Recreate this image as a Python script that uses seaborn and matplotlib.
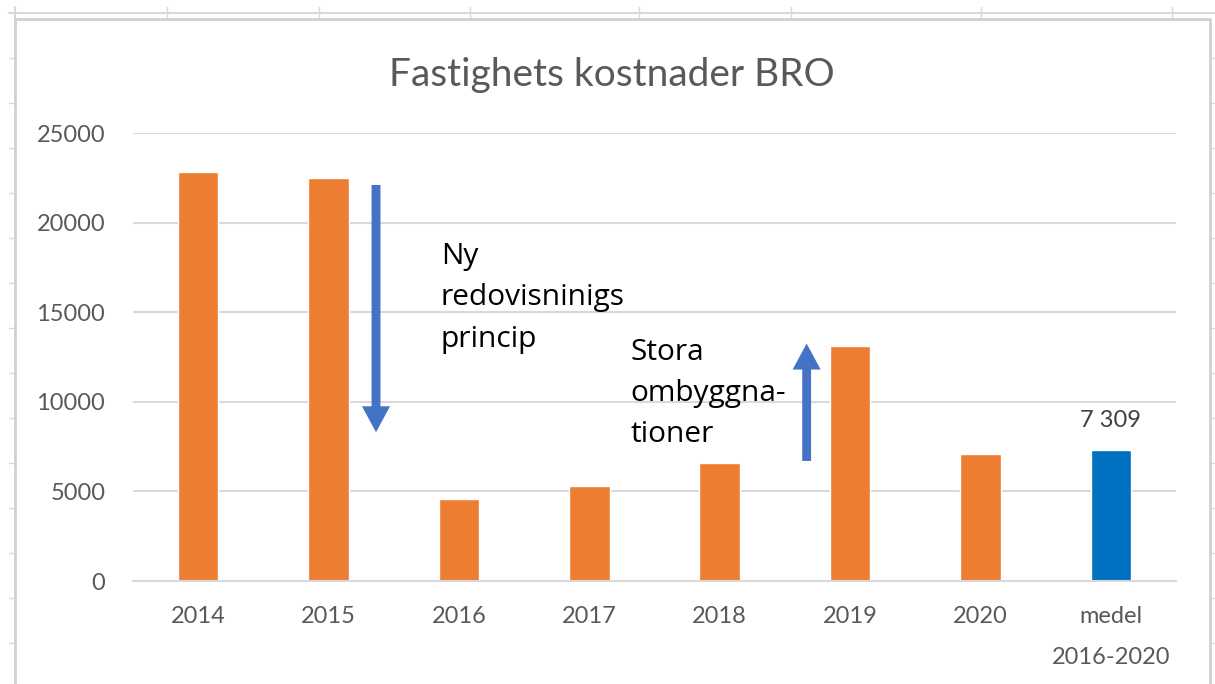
import matplotlib
matplotlib.use("Agg")
import matplotlib.pyplot as plt
import seaborn as sns
import pandas as pd
from matplotlib.patches import FancyArrow
from matplotlib.lines import Line2D

categories = ["2014", "2015", "2016", "2017", "2018", "2019", "2020", "medel\n2016-2020"]
values = [22800, 22500, 4600, 5300, 6600, 13100, 7100, 7309]
bar_colors = ["#ED7D31"] * 7 + ["#0070C0"]
yticks = [0, 5000, 10000, 15000, 20000, 25000]
title = "Fastighets kostnader BRO"
note_down = "Ny\nredovisninigs\nprincip"
note_up = "Stora\nombyggna-\ntioner"
mean_label = "7 309"

sns.set_theme(style="white")
plt.rcParams["font.family"] = ["Lato", "DejaVu Sans"]

df = pd.DataFrame({"cat": categories, "val": values})

W, H = 1215, 684
fig = plt.figure(figsize=(W / 100, H / 100), dpi=100)
fig.patch.set_facecolor("white")


def fx(px):
    return px / W


def fy(py):
    return 1 - py / H


grid_c = "#d9d9d9"
# spreadsheet background lines
fig.add_artist(Line2D([fx(9), 1], [fy(13), fy(13)], color=grid_c, lw=1.5, transform=fig.transFigure))
for x in [167, 319, 470, 639, 791, 981, 1172]:
    fig.add_artist(Line2D([fx(x), fx(x)], [fy(7), fy(18)], color=grid_c, lw=1, transform=fig.transFigure))
for y in range(58, 684, 45):
    fig.add_artist(Line2D([fx(9), fx(14)], [fy(y), fy(y)], color=grid_c, lw=1, transform=fig.transFigure))
    fig.add_artist(Line2D([fx(1210), 1], [fy(y), fy(y)], color=grid_c, lw=1, transform=fig.transFigure))
fig.add_artist(Line2D([fx(15), fx(15)], [fy(7), fy(19)], color=grid_c, lw=1.5, transform=fig.transFigure))
# chart area border
fig.add_artist(Line2D([fx(14.5), fx(14.5), fx(1210), fx(1210)], [0, fy(19), fy(19), 0],
                      color="#d0d0d0", lw=2, transform=fig.transFigure))

ax = fig.add_axes([fx(133), fy(581), (1176 - 133) / W, (581 - 133) / H])
sns.barplot(data=df, x="cat", y="val", hue="cat", palette=bar_colors, legend=False,
            width=0.31, ax=ax, saturation=1)

ax.set_ylim(0, 25000)
ax.set_xlim(-0.5, len(categories) - 0.5)
ax.set_yticks(yticks)
ax.set_yticklabels([str(t) for t in yticks])
ax.yaxis.grid(True, color="#d9d9d9", lw=1.5)
ax.set_axisbelow(True)
for s in ["top", "right", "left"]:
    ax.spines[s].set_visible(False)
ax.spines["bottom"].set_color("#d9d9d9")
ax.spines["bottom"].set_linewidth(1.5)
ax.set_xlabel("")
ax.set_ylabel("")
ax.tick_params(axis="both", length=0, labelsize=17, labelcolor="#595959")
ax.tick_params(axis="y", pad=20)
ax.tick_params(axis="x", pad=18)
for lbl in ax.get_xticklabels():
    lbl.set_linespacing(2.2)
ax.set_title(title, fontsize=28, color="#595959", pad=34, x=(612 - 133) / (1176 - 133))

# mean data label
ax.annotate(mean_label, xy=(7, values[7]), xytext=(0, 14), textcoords="offset points",
            ha="center", va="bottom", fontsize=17, color="#404040")

# arrows
arrow_c = "#4472C4"
ax.add_patch(FancyArrow(1.364, 22100, 0, -(22100 - 8300), width=0.068, head_width=0.215,
                        head_length=1450, length_includes_head=True, color=arrow_c, lw=0))
ax.add_patch(FancyArrow(4.667, 6700, 0, 13250 - 6700, width=0.068, head_width=0.215,
                        head_length=1450, length_includes_head=True, color=arrow_c, lw=0))

ax.text(1.862, 18900, note_down, ha="left", va="top", fontsize=21.5, color="black",
        linespacing=1.55, family=["Open Sans", "DejaVu Sans"])
ax.text(3.318, 13550, note_up, ha="left", va="top", fontsize=21.5, color="black",
        linespacing=1.55, family=["Open Sans", "DejaVu Sans"])

fig.savefig("out.png", dpi=100)
